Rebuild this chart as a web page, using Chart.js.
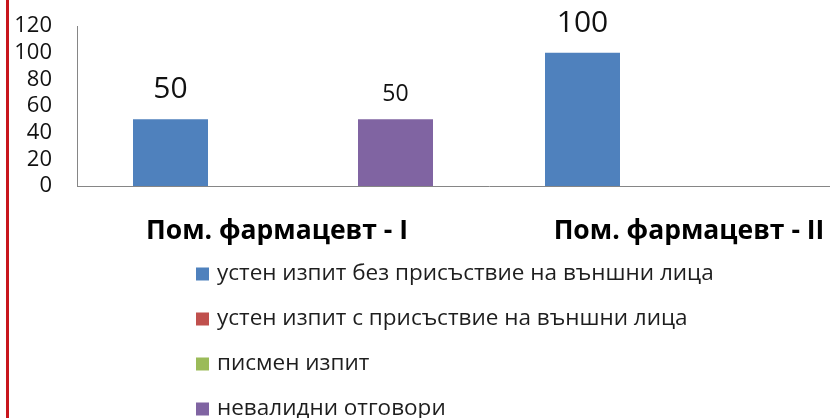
<!DOCTYPE html>
<html>
<head>
<meta charset="utf-8">
<script src="https://cdn.jsdelivr.net/npm/chart.js@4"></script>
<style>
  html, body { margin: 0; padding: 0; background: #fff; overflow: hidden; }
  #wrap { position: relative; width: 830px; height: 418px; overflow: hidden; background: #fff; }
  #c { position: absolute; left: 0; top: 0; }
  #edge { position: absolute; left: 6px; top: 0; width: 3px; height: 418px; background: #c8161d; }
</style>
</head>
<body>
<div id="wrap">
  <canvas id="c" width="901" height="418"></canvas>
  <div id="edge"></div>
</div>
<script>
// ---- data ----
const categories = ['Пом. фармацевт - I', 'Пом. фармацевт - II'];
const seriesNames = [
  'устен изпит без присъствие на външни лица',
  'устен изпит с присъствие на външни лица',
  'писмен изпит',
  'невалидни отговори'
];
const oralWithout = [50, 100];
const oralWith = [0, 0];
const written = [0, 0];
const invalid = [50, 0];
const yMin = 0, yMax = 120, yStep = 20;

// ---- styles ----
const seriesColors = ['#4F81BD', '#C0504D', '#9BBB59', '#8064A2'];
const labelFontSizes = [30, 30, 30, 23];
const labelGaps = [21, 21, 21, 18];
const FONT = "'Open Sans', 'DejaVu Sans', sans-serif";

const seriesValues = [oralWithout, oralWith, written, invalid];

const dataLabelPlugin = {
  id: 'dataLabels',
  afterDatasetsDraw(chart) {
    const ctx = chart.ctx;
    ctx.save();
    ctx.fillStyle = '#111';
    ctx.textAlign = 'center';
    ctx.textBaseline = 'alphabetic';
    chart.data.datasets.forEach((ds, i) => {
      const meta = chart.getDatasetMeta(i);
      meta.data.forEach((el, j) => {
        const v = ds.data[j];
        if (!v) return;
        ctx.font = labelFontSizes[i] + 'px ' + FONT;
        ctx.fillText(String(v), el.x, el.y - labelGaps[i]);
      });
    });
    ctx.restore();
  }
};

const legendPlugin = {
  id: 'vertLegend',
  afterDraw(chart) {
    const ctx = chart.ctx;
    const base = chart.chartArea.bottom;
    ctx.save();
    ctx.font = '22.5px ' + FONT;
    ctx.textAlign = 'left';
    ctx.textBaseline = 'middle';
    chart.data.datasets.forEach((ds, i) => {
      const cy = base + 88 + i * 45;
      ctx.fillStyle = ds.backgroundColor;
      ctx.fillRect(196, cy - 6.5, 13, 13);
      ctx.fillStyle = '#1e1e1e';
      ctx.fillText(ds.label, 217, cy);
    });
    ctx.restore();
  }
};

new Chart(document.getElementById('c'), {
  type: 'bar',
  data: {
    labels: categories,
    datasets: seriesNames.map((name, i) => ({
      label: name,
      data: seriesValues[i],
      backgroundColor: seriesColors[i],
      borderWidth: 0,
      categoryPercentage: 300 / 412,
      barPercentage: 1.0
    }))
  },
  options: {
    responsive: false,
    animation: false,
    devicePixelRatio: 1,
    layout: { padding: { left: 0, right: 0, top: 26, bottom: 172 } },
    plugins: {
      legend: { display: false },
      tooltip: { enabled: false }
    },
    scales: {
      x: {
        grid: { display: false, drawTicks: false },
        border: { display: true, color: '#868686', width: 1 },
        ticks: {
          padding: 30,
          labelOffset: -6,
          color: '#000',
          maxRotation: 0,
          autoSkip: false,
          font: { family: FONT, size: 26.5, weight: 'bold' }
        },
        afterFit(scale) { scale.height = 60; }
      },
      y: {
        min: yMin,
        max: yMax,
        grid: { display: false, drawTicks: false },
        border: { display: true, color: '#868686', width: 1 },
        ticks: {
          stepSize: yStep,
          autoSkip: false,
          padding: 25,
          color: '#111',
          font: { family: FONT, size: 22 }
        },
        afterFit(scale) {
          scale.width = 77;
          scale.paddingTop = 13;
          scale.paddingBottom = 13;
        }
      }
    }
  },
  plugins: [dataLabelPlugin, legendPlugin]
});
</script>
</body>
</html>
